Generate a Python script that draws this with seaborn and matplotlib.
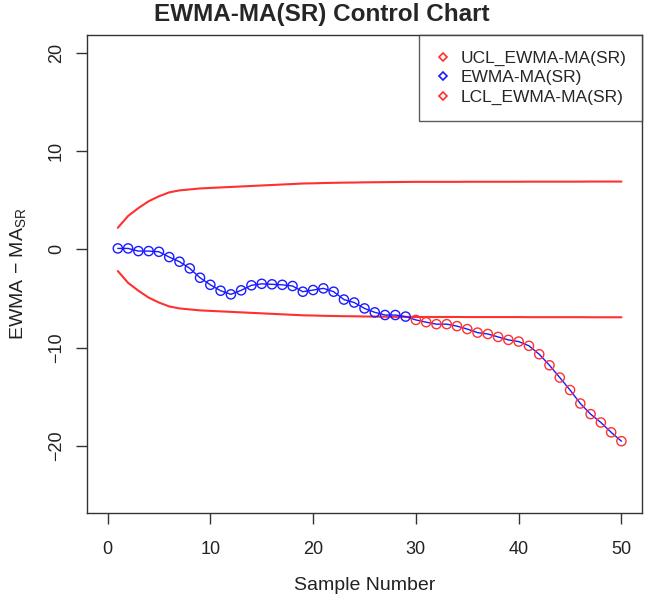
import numpy as np
import pandas as pd
import matplotlib
matplotlib.use("Agg")
import matplotlib.pyplot as plt
import seaborn as sns
from matplotlib.lines import Line2D

# Data
sample = list(range(1, 51))
ewma = [0.1, 0.1, -0.17, -0.17, -0.24, -0.78, -1.25, -1.93, -2.88, -3.6,
        -4.2, -4.57, -4.16, -3.65, -3.5, -3.55, -3.6, -3.72, -4.3, -4.13,
        -3.96, -4.3, -5.1, -5.4, -6.0, -6.4, -6.67, -6.67, -6.83, -7.17,
        -7.4, -7.6, -7.6, -7.8, -8.1, -8.46, -8.6, -8.9, -9.2, -9.37,
        -9.8, -10.66, -11.78, -13.03, -14.3, -15.67, -16.75, -17.6, -18.6, -19.5]
ucl = [2.2, 3.4, 4.2, 4.9, 5.4, 5.8, 6.0, 6.1, 6.2, 6.25,
       6.3, 6.35, 6.4, 6.45, 6.5, 6.55, 6.6, 6.65, 6.7, 6.72,
       6.75, 6.77, 6.79, 6.8, 6.82, 6.83, 6.84, 6.85, 6.86, 6.87,
       6.87, 6.87, 6.87, 6.87, 6.88, 6.88, 6.88, 6.88, 6.88, 6.88,
       6.89, 6.89, 6.89, 6.89, 6.89, 6.89, 6.9, 6.9, 6.9, 6.9]
lcl = [-2.2, -3.4, -4.2, -4.9, -5.4, -5.8, -6.0, -6.1, -6.2, -6.25,
       -6.3, -6.35, -6.4, -6.45, -6.5, -6.55, -6.6, -6.65, -6.7, -6.72,
       -6.75, -6.77, -6.79, -6.8, -6.82, -6.83, -6.84, -6.85, -6.86, -6.87,
       -6.87, -6.87, -6.87, -6.87, -6.88, -6.88, -6.88, -6.88, -6.88, -6.88,
       -6.89, -6.89, -6.89, -6.89, -6.89, -6.89, -6.9, -6.9, -6.9, -6.9]
legend_labels = ["UCL_EWMA-MA(SR)", "EWMA-MA(SR)", "LCL_EWMA-MA(SR)"]

df = pd.DataFrame({"Sample": sample, "EWMA": ewma, "UCL": ucl, "LCL": lcl})
df["out"] = (df["EWMA"] > df["UCL"]) | (df["EWMA"] < df["LCL"])

sns.set_style("ticks")
plt.rcParams["font.family"] = ["Liberation Sans", "DejaVu Sans"]
plt.rcParams["mathtext.fontset"] = "custom"
plt.rcParams["mathtext.rm"] = "Liberation Sans"
plt.rcParams["mathtext.it"] = "Liberation Sans"

red = "#ff3030"
blue = "#1a1aff"

fig = plt.figure(figsize=(6.45, 6.0), dpi=100)
ax = fig.add_axes([87 / 645, 87 / 600, 555 / 645, 478 / 600])

# control limits and EWMA line
sns.lineplot(data=df, x="Sample", y="UCL", color=red, lw=1.5, ax=ax)
sns.lineplot(data=df, x="Sample", y="LCL", color=red, lw=1.5, ax=ax)
sns.lineplot(data=df, x="Sample", y="EWMA", color=blue, lw=1.0, ax=ax)

# open circles, red when outside the limits
for is_out, grp in df.groupby("out"):
    sns.scatterplot(data=grp, x="Sample", y="EWMA", s=44, marker="o",
                    facecolors="none", edgecolor=red if is_out else blue,
                    linewidth=1.0, ax=ax, zorder=3)

ax.set_xlim(-2, 52)
ax.set_ylim(-26.8, 21.8)
ax.set_xticks([0, 10, 20, 30, 40, 50])
ax.set_yticks([-20, -10, 0, 10, 20])
ax.tick_params(axis="both", length=8, width=1, color="#333333",
               labelsize=13, labelcolor="#222222")
ax.tick_params(axis="x", pad=12)
ax.tick_params(axis="y", pad=8)
for lab in ax.get_yticklabels():
    lab.set_rotation(90)
    lab.set_va("center")
for sp in ax.spines.values():
    sp.set_color("#333333")
    sp.set_linewidth(1.0)

ax.set_xlabel("Sample Number", fontsize=14, labelpad=14, color="#222222")
ax.set_ylabel(r"EWMA $-$ MA$_{\mathrm{SR}}$", fontsize=14, labelpad=14,
              color="#222222")
ax.set_title("EWMA-MA(SR) Control Chart", fontsize=17.5, fontweight="bold",
             x=0.423, pad=10)

handles = [
    Line2D([], [], ls="none", marker="D", markersize=4.5, fillstyle="none",
           markeredgecolor=red, markeredgewidth=1.2),
    Line2D([], [], ls="none", marker="D", markersize=4.5, fillstyle="none",
           markeredgecolor=blue, markeredgewidth=1.2),
    Line2D([], [], ls="none", marker="D", markersize=4.5, fillstyle="none",
           markeredgecolor=red, markeredgewidth=1.2),
]
leg = ax.legend(handles, legend_labels, loc="upper right",
                bbox_to_anchor=(1, 1), borderaxespad=0, fontsize=12.5,
                frameon=True, fancybox=False, handlelength=1.0,
                handletextpad=0.5, borderpad=0.9, labelspacing=0.25)
leg.get_frame().set_edgecolor("#333333")
leg.get_frame().set_linewidth(1.0)

fig.savefig("out.png", dpi=100)
